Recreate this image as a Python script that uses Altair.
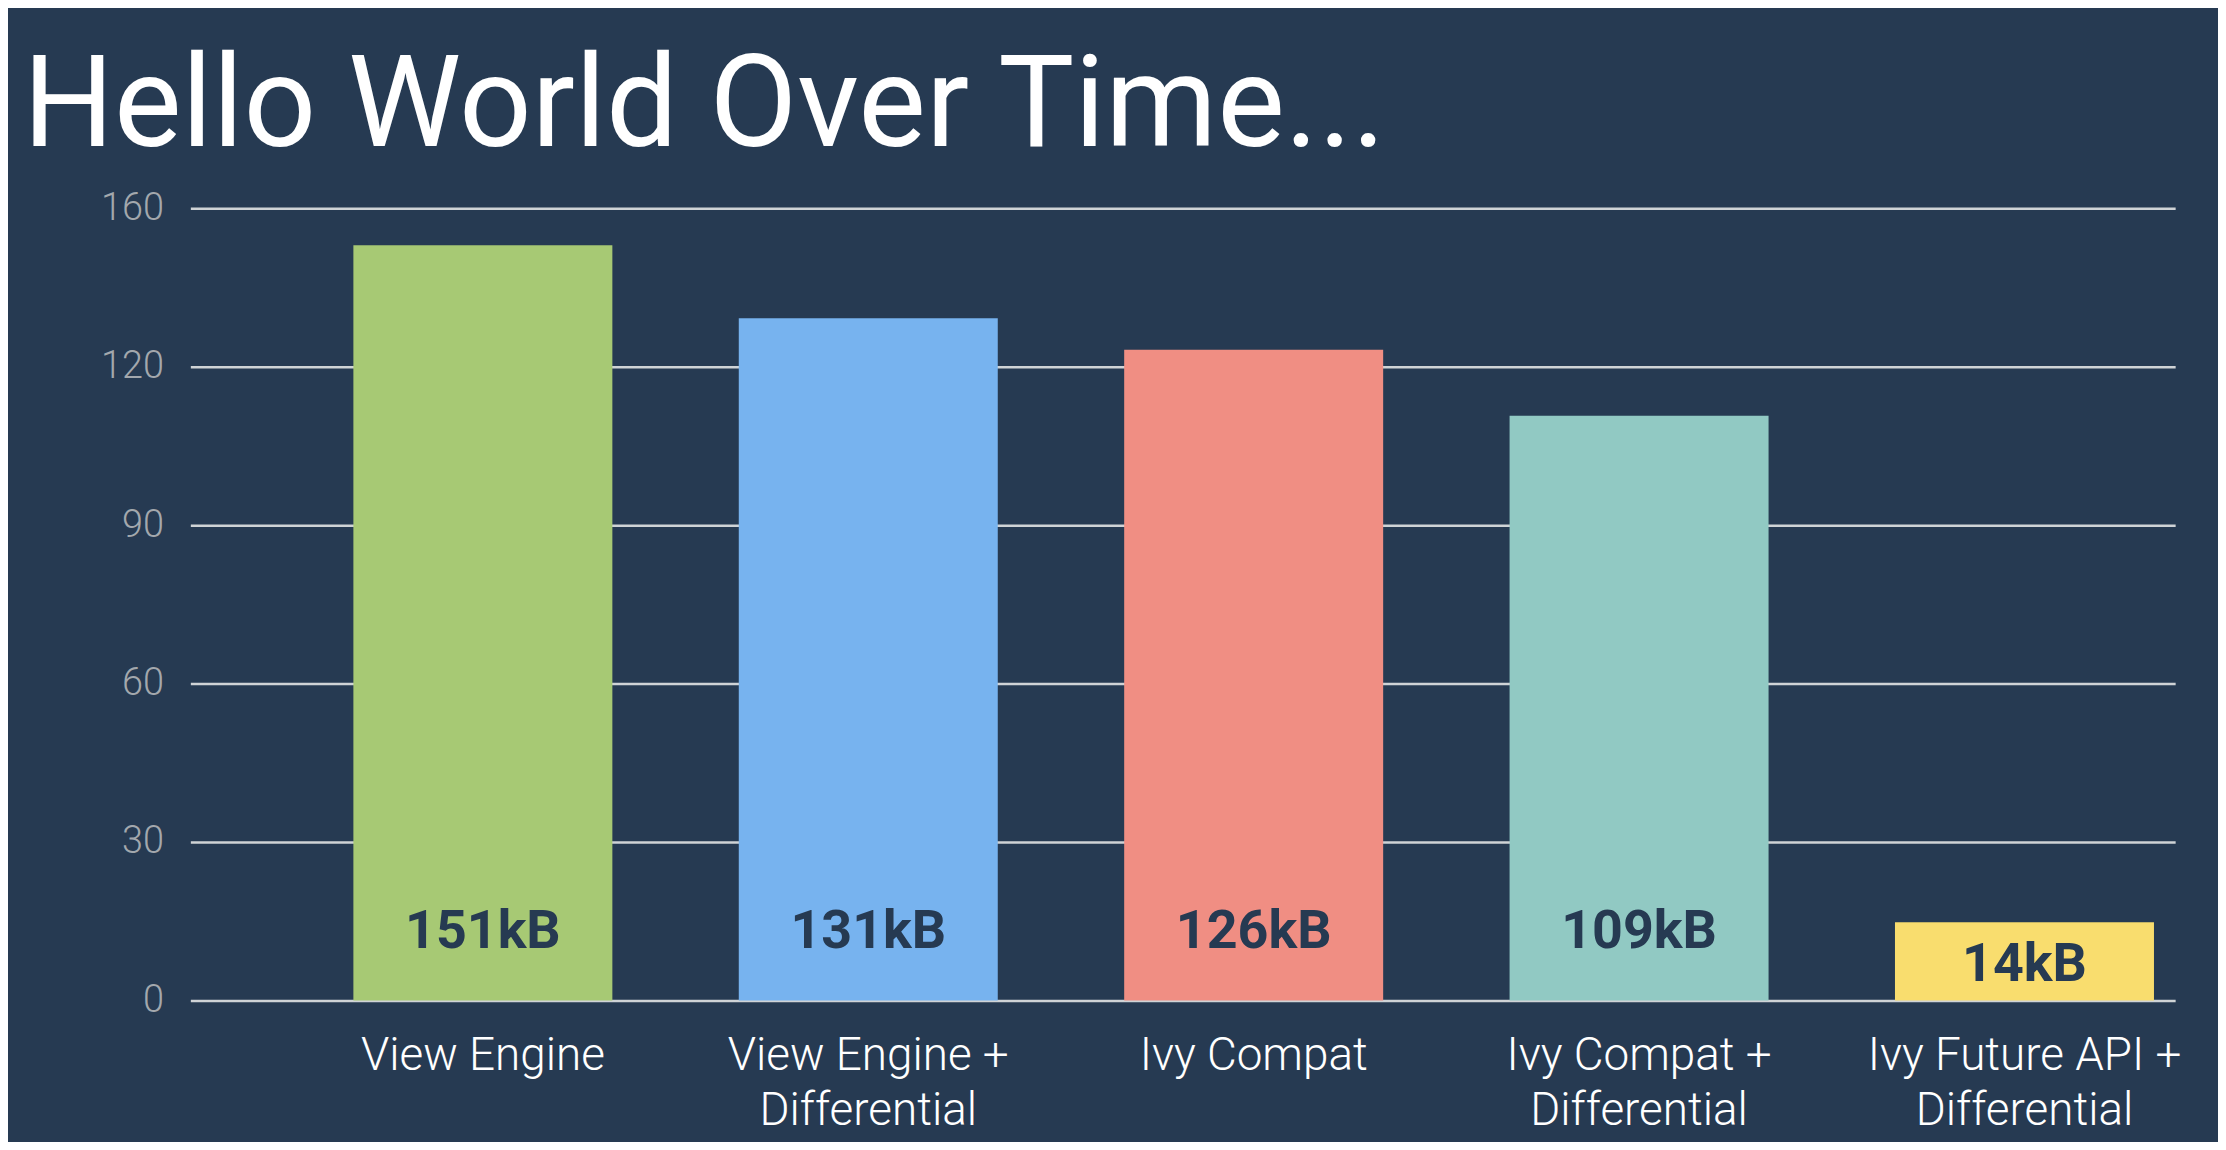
import altair as alt
import pandas as pd

# ---- data ----
categories = [
    "View Engine",
    "View Engine + Differential",
    "Ivy Compat",
    "Ivy Compat + Differential",
    "Ivy Future API + Differential",
]
bar_values = [143.0, 129.2, 123.2, 110.7, 14.8]   # bar heights on the axis scale
value_labels = ["151kB", "131kB", "126kB", "109kB", "14kB"]
bar_colors = ["#a7c974", "#77b3ef", "#f08e83", "#91c9c3", "#f9dd6e"]

tick_values = [0, 30, 60, 90, 120, 150]
tick_labels = ["0", "30", "60", "90", "120", "160"]

title_text = "Hello World Over Time..."

BG = "#263a52"

df = pd.DataFrame({"category": categories, "value": bar_values, "label": value_labels})

# label expression built from the tick lists
expr = "''"
for v, l in reversed(list(zip(tick_values, tick_labels))):
    expr = f"datum.value == {v} ? '{l}' : ({expr})"

x_scale = alt.Scale(paddingInner=0.328, paddingOuter=0.239, align=0.885)

x_enc = alt.X(
    "category:N",
    sort=categories,
    scale=x_scale,
    axis=alt.Axis(
        title=None,
        domain=False,
        ticks=False,
        labelAngle=0,
        labelFont="Roboto",
        labelFontWeight=300,
        labelFontSize=46,
        labelColor="#ffffff",
        labelLineHeight=55,
        labelPadding=33,
        labelLimit=0,
        labelExpr="split(replace(datum.label, ' + ', ' +|'), '|')",
    ),
)

y_scale = alt.Scale(domain=[0, 150], nice=False)

bars = alt.Chart(df).mark_bar().encode(
    x=x_enc,
    y=alt.Y(
        "value:Q",
        scale=y_scale,
        axis=alt.Axis(
            title=None,
            values=tick_values,
            labelExpr=expr,
            domain=False,
            ticks=False,
            grid=True,
            gridColor="#cfd3d6",
            gridWidth=2.5,
            labelFont="Roboto",
            labelFontWeight=300,
            labelFontSize=38,
            labelColor="#a3a8ad",
            labelPadding=27,
        ),
    ),
    color=alt.Color(
        "category:N",
        scale=alt.Scale(domain=categories, range=bar_colors),
        legend=None,
    ),
)

texts = (
    alt.Chart(df)
    .transform_calculate(ly="min(datum.value / 2, 13.7)")
    .mark_text(font="Roboto", fontWeight=700, fontSize=54, color=BG, baseline="middle", dy=4)
    .encode(
        x=alt.X("category:N", sort=categories),
        y=alt.Y("ly:Q", scale=y_scale),
        text="label:N",
    )
)

chart = (
    alt.layer(bars, texts)
    .properties(
        width=1992,
        height=795,
        title=alt.TitleParams(
            text=title_text,
            font="Roboto",
            fontSize=128,
            fontWeight=400,
            color="#ffffff",
            anchor="start",
            frame="group",
            baseline="alphabetic",
            offset=43,
            dx=-168,
            dy=127,
        ),
        autosize=alt.AutoSizeParams(type="none"),
        padding={"left": 183, "top": 199, "right": 43, "bottom": 140},
        background=BG,
    )
    .configure_view(stroke=None)
)

chart.save("out.html", embed_options={"renderer": "svg", "actions": False})
